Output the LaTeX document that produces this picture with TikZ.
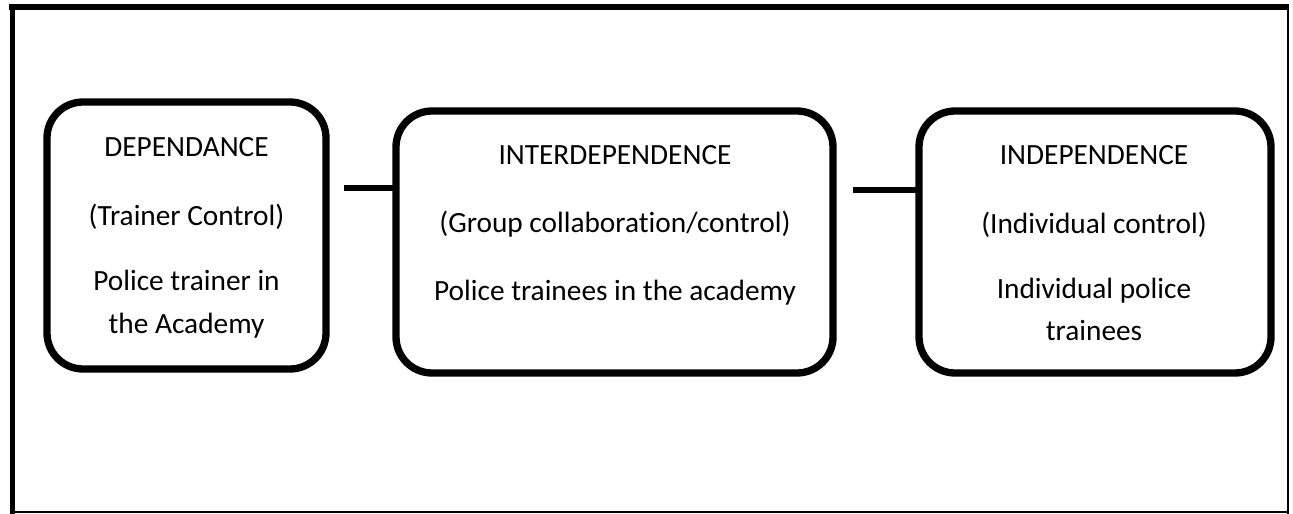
\documentclass[tikz,border=0pt]{standalone}
\usepackage{fontspec}
\setmainfont{Carlito}[Ligatures=NoCommon]
\usetikzlibrary{calc}
\begin{document}
\begin{tikzpicture}[x=0.75pt,y=-0.75pt,
  box/.style={draw, line width=5.5pt, rounded corners=27pt, inner sep=0pt, outer sep=0pt},
  conn/.style={line width=4.9pt},
  txt/.style={anchor=base, inner sep=0pt, font=\fontsize{22}{26}\selectfont}]
\useasboundingbox (0,0) rectangle (1293,514);
% outer frame
\draw[line width=4.5pt] (9,7) -- (1289,7);
\draw[line width=3.75pt] (12,4) -- (12,514);
\draw[line width=1.5pt] (1288,6) -- (1288,514);
\draw[line width=1.8pt] (10,512) -- (1289,512);
% boxes
\node[box, minimum width=209.25pt, minimum height=200.25pt] (b1) at (186.5,235.5) {};
\node[box, minimum width=327.75pt, minimum height=196.5pt] (b2) at (614.5,242) {};
\node[box, minimum width=264pt, minimum height=196.5pt] (b3) at (1095,242) {};
% connectors
\coordinate (c1) at (344,188);
\coordinate (c2) at (853,190);
\draw[conn] (c1) -- (c1 -| b2.west);
\draw[conn] (c2) -- (c2 -| b3.west);
% texts box 1
\node[txt] (t11) at (186.5,156) {DEPENDANCE};
\node[txt] (t12) at (186.5,225) {(Trainer Control)};
\node[txt] (t13) at (186.5,290) {Police trainer in};
\node[txt] (t14) at (186.5,333) {the Academy};
% texts box 2
\node[txt] (t21) at (615,164) {INTERDEPENDENCE};
\node[txt] (t22) at (615,232) {(Group collaboration/control)};
\node[txt] (t23) at (615,300) {Police trainees in the academy};
% texts box 3
\node[txt] (t31) at (1094,164) {INDEPENDENCE};
\node[txt] (t32) at (1094,233) {(Individual control)};
\node[txt] (t33) at (1094,298) {Individual police};
\node[txt] (t34) at (1094,340) {trainees};
\end{tikzpicture}
\end{document}
